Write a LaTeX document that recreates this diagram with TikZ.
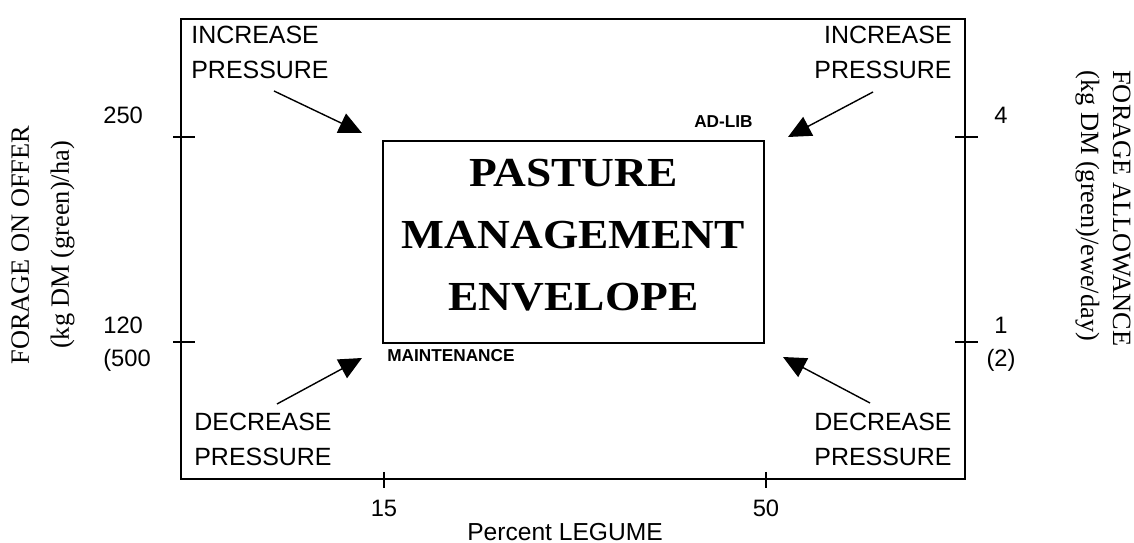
\documentclass[tikz,border=0pt]{standalone}
\usepackage{fontspec}
\usepackage{graphicx}
\setmainfont{Liberation Sans}
\newfontfamily\pmserif{Liberation Serif}
\usetikzlibrary{arrows.meta}

\newcommand{\presssize}{\fontsize{14.2}{19.9}\selectfont}
\newcommand{\ticksize}{\fontsize{13.5}{18.8}\selectfont}
\newcommand{\wideline}[1]{\scalebox{1.1}[1]{#1}}
\tikzset{
  press/.style={inner sep=0pt, font=\presssize},
  pushes/.style={line width=0.8pt, -{Triangle[length=13pt,width=12pt]}},
  ticknum/.style={inner sep=0pt, font=\ticksize},
  corner/.style={inner sep=0pt, font=\fontsize{9.8}{11}\selectfont\bfseries},
}

\begin{document}
\begin{tikzpicture}[x=0.02cm, y=-0.02cm]
\useasboundingbox (0,0) rectangle (1134,543);

% outer frame and ticks
\draw[line width=0.85pt] (181,19) rectangle (965,479);
\foreach \ty in {137, 342} {
    \draw[line width=0.85pt] (173,\ty) -- (195,\ty);
    \draw[line width=0.85pt] (955,\ty) -- (978,\ty);
}
\foreach \tx in {384, 766}
    \draw[line width=0.85pt] (\tx,472) -- (\tx,488);

% envelope box
\coordinate (envNW) at (383,141);
\coordinate (envSE) at (764,343);
\draw[line width=1.7pt] (envNW) rectangle (envSE);
\node[inner sep=0pt, align=center, font=\pmserif\fontsize{23.5}{35.3}\selectfont\bfseries]
    (title) at (573.5,235.5)
    {\wideline{PASTURE}\\\wideline{MANAGEMENT}\\\wideline{ENVELOPE}};
\node[corner, anchor=east] (adlib) at (753,122) {AD-LIB};
\node[corner, anchor=west] (maint) at (387,356) {MAINTENANCE};

% corner texts
\node[press, anchor=west, align=left] (incL) at (191,52.5) {INCREASE\\PRESSURE};
\node[press, anchor=east, align=right] (incR) at (952,52.5) {INCREASE\\PRESSURE};
\node[press, anchor=west, align=left] (decL) at (194,439) {DECREASE\\PRESSURE};
\node[press, anchor=east, align=right] (decR) at (952,439) {DECREASE\\PRESSURE};

% arrow ends
\coordinate (incLtail) at (274,91);
\coordinate (incLtip) at (362,133);
\coordinate (incRtail) at (873,92);
\coordinate (incRtip) at (788,137);
\coordinate (decLtail) at (277,404);
\coordinate (decLtip) at (362,358);
\coordinate (decRtail) at (870,403);
\coordinate (decRtip) at (783,357);
\foreach \a in {incL, incR, decL, decR}
    \draw[pushes] (\a tail) -- (\a tip);

% axis numbers
\node[ticknum, anchor=west] (y250) at (103,115) {250};
\node[ticknum, anchor=north west, align=left] (y120) at (103,317) {120\\(500};
\node[ticknum] (a4) at (1001,115) {4};
\node[ticknum, anchor=north, align=center] (a1) at (1001,317) {1\\(2)};
\node[ticknum] (x15) at (384,508) {15};
\node[ticknum] (x50) at (766,508) {50};
\node[inner sep=0pt, font=\fontsize{14}{16}\selectfont] (xlabel) at (565,532) {Percent LEGUME};

% side labels
\node[inner sep=0pt, rotate=90, align=center, font=\pmserif\fontsize{15}{22.8}\selectfont]
    (offer) at (43,245) {FORAGE ON OFFER\\(kg DM (green)/ha)};
\node[inner sep=0pt, rotate=-90, anchor=west, align=left, font=\pmserif\fontsize{15}{18.2}\selectfont]
    (allow) at (1103,70) {FORAGE ALLOWANCE\\(kg DM (green)/ewe/day)};

\end{tikzpicture}
\end{document}
